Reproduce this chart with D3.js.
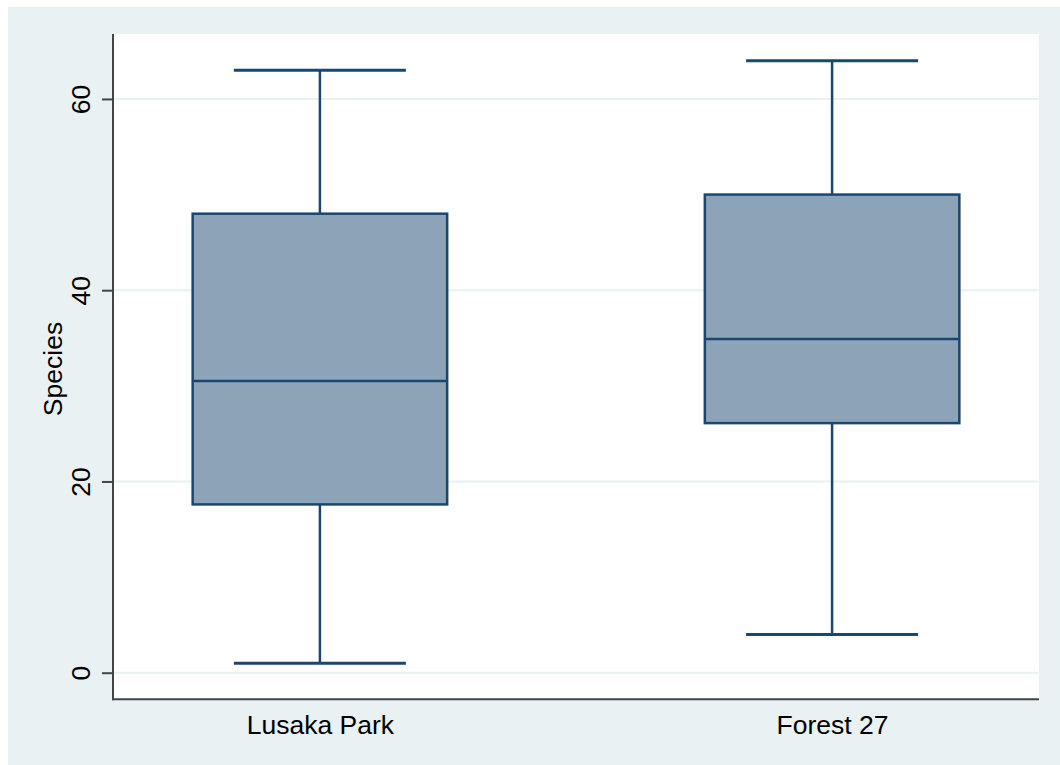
<!DOCTYPE html>
<html>
<head>
<meta charset="utf-8">
<script src="https://cdn.jsdelivr.net/npm/d3@7"></script>
<style>
  html, body { margin: 0; padding: 0; background: #ffffff; }
  svg { display: block; }
  text { font-family: "Liberation Sans", Arial, sans-serif; fill: #000; }
</style>
</head>
<body>
<svg id="chart" width="1060" height="765"></svg>
<script>
const categories = ["Lusaka Park", "Forest 27"];
const whiskerLow = [1, 4];
const q1 = [17.6, 26.1];
const median = [30.5, 34.9];
const q3 = [48, 50];
const whiskerHigh = [63, 64];
const yTicks = [0, 20, 40, 60];

const W = 1060, H = 765;
const plot = { left: 113, right: 1039, top: 34, bottom: 699.3 };
const navy = "#1A476F";
const boxFill = "#8CA3B8";
const bg = "#E9F1F3";
const fs = 26.5;

const svg = d3.select("#chart");

svg.append("rect").attr("x", 8).attr("y", 7).attr("width", W - 8).attr("height", H - 7).attr("fill", bg);
svg.append("rect").attr("x", plot.left).attr("y", plot.top)
  .attr("width", plot.right - plot.left).attr("height", plot.bottom - plot.top).attr("fill", "#ffffff");

const y = d3.scaleLinear().domain([-2.78, 66.79]).range([plot.bottom, plot.top]);
const x = d3.scalePoint().domain(categories).range([plot.left, plot.right]).padding(0.404);

// gridlines
svg.append("g").selectAll("line").data(yTicks).join("line")
  .attr("x1", plot.left).attr("x2", plot.right)
  .attr("y1", d => y(d)).attr("y2", d => y(d))
  .attr("stroke", bg).attr("stroke-width", 2);

const boxW = 254.5, capW = 172;
const data = categories.map((c, i) => ({ c, lo: whiskerLow[i], q1: q1[i], med: median[i], q3: q3[i], hi: whiskerHigh[i] }));

const g = svg.append("g").selectAll("g").data(data).join("g");
// whiskers
g.append("line").attr("x1", d => x(d.c)).attr("x2", d => x(d.c))
  .attr("y1", d => y(d.hi)).attr("y2", d => y(d.q3))
  .attr("stroke", navy).attr("stroke-width", 2.5);
g.append("line").attr("x1", d => x(d.c)).attr("x2", d => x(d.c))
  .attr("y1", d => y(d.q1)).attr("y2", d => y(d.lo))
  .attr("stroke", navy).attr("stroke-width", 2.5);
// caps
g.append("line").attr("x1", d => x(d.c) - capW / 2).attr("x2", d => x(d.c) + capW / 2)
  .attr("y1", d => y(d.hi)).attr("y2", d => y(d.hi))
  .attr("stroke", navy).attr("stroke-width", 3);
g.append("line").attr("x1", d => x(d.c) - capW / 2).attr("x2", d => x(d.c) + capW / 2)
  .attr("y1", d => y(d.lo)).attr("y2", d => y(d.lo))
  .attr("stroke", navy).attr("stroke-width", 3);
// box
g.append("rect").attr("x", d => x(d.c) - boxW / 2).attr("width", boxW)
  .attr("y", d => y(d.q3)).attr("height", d => y(d.q1) - y(d.q3))
  .attr("fill", boxFill).attr("stroke", navy).attr("stroke-width", 2.5);
// median
g.append("line").attr("x1", d => x(d.c) - boxW / 2).attr("x2", d => x(d.c) + boxW / 2)
  .attr("y1", d => y(d.med)).attr("y2", d => y(d.med))
  .attr("stroke", navy).attr("stroke-width", 2.5);

// y axis
const yAxis = d3.axisLeft(y).tickValues(yTicks).tickSize(11).tickPadding(0).tickFormat(d3.format("d"));
const ya = svg.append("g").attr("transform", `translate(${plot.left},0)`).call(yAxis);
ya.select(".domain").remove();
ya.selectAll(".tick line").attr("stroke", "#444").attr("stroke-width", 2);
ya.selectAll(".tick text").remove();
ya.selectAll(".tick").append("text")
  .attr("transform", "translate(-23,0) rotate(-90)")
  .attr("text-anchor", "middle")
  .attr("font-size", fs)
  .text(d => d3.format("d")(d));

// x axis labels
const xAxis = d3.axisBottom(x).tickSize(0).tickPadding(0);
const xa = svg.append("g").attr("transform", `translate(0,${plot.bottom})`).call(xAxis);
xa.select(".domain").remove();
xa.selectAll(".tick text").remove();
xa.selectAll(".tick").append("text")
  .attr("y", 35).attr("text-anchor", "middle").attr("font-size", fs)
  .text(d => d);

// spines
svg.append("line").attr("x1", plot.left).attr("x2", plot.left).attr("y1", plot.top).attr("y2", plot.bottom + 1)
  .attr("stroke", "#444").attr("stroke-width", 2);
svg.append("line").attr("x1", plot.left - 1).attr("x2", plot.right).attr("y1", plot.bottom).attr("y2", plot.bottom)
  .attr("stroke", "#444").attr("stroke-width", 2);

// y title
svg.append("text")
  .attr("transform", `translate(61.5,369) rotate(-90)`)
  .attr("text-anchor", "middle").attr("font-size", fs)
  .text("Species");
</script>
</body>
</html>
